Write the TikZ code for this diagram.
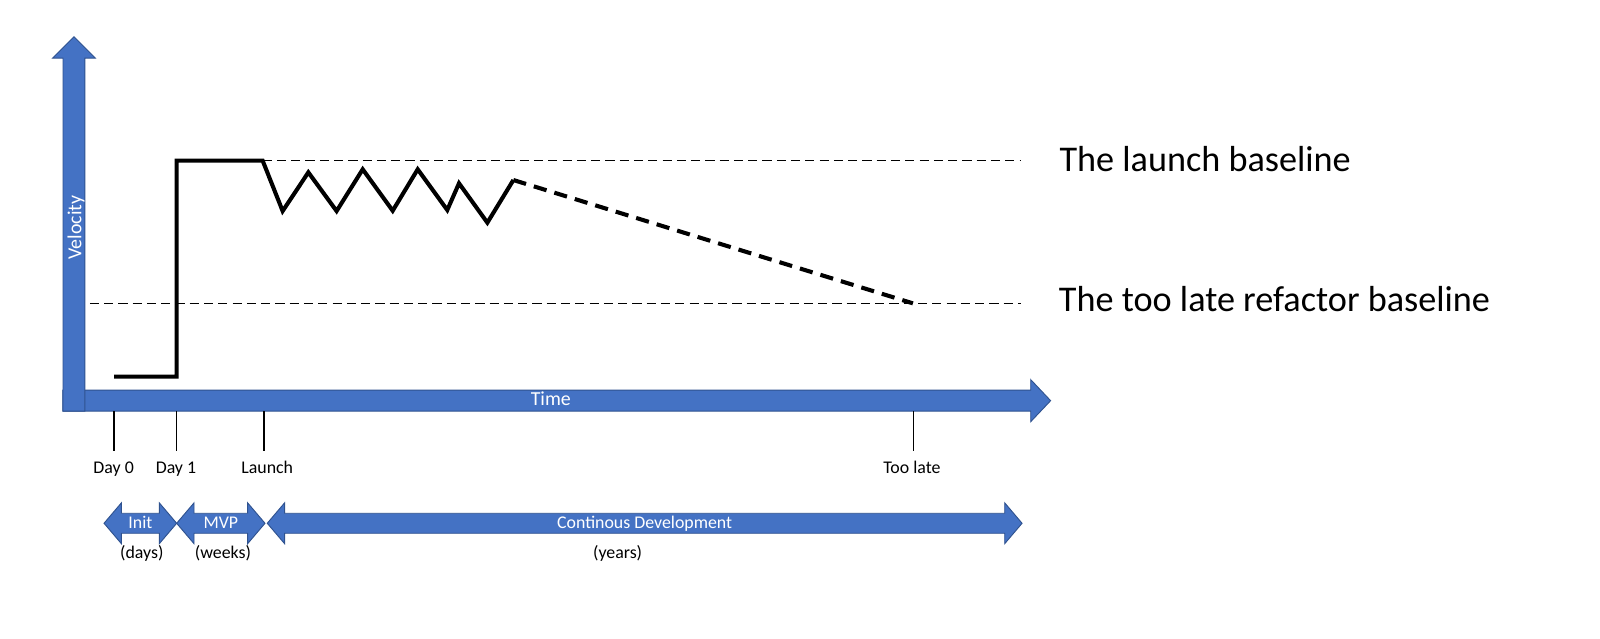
\documentclass[tikz,border=0pt]{standalone}
\usepackage{fontspec}
\setmainfont{Carlito}
\definecolor{axblue}{HTML}{4472C4}
\definecolor{axedge}{HTML}{2F528F}
\newcommand\mydblarr[2]{%
  \draw[blk] (#1,513) -- ({#1+17},493) -- ({#1+17},503.2) -- ({#2-17},503.2) -- ({#2-17},493) -- (#2,513)
    -- ({#2-17},533) -- ({#2-17},522.8) -- ({#1+17},522.8) -- ({#1+17},533) -- cycle;}
\begin{document}
\begin{tikzpicture}[x=1pt,y=-1pt,
  blk/.style={fill=axblue,draw=axedge,line width=0.9pt,line join=miter},
  curve/.style={line width=4pt,line join=miter,line cap=butt},
  thickdash/.style={line width=4pt,dash pattern=on 13pt off 8pt},
  baseln/.style={line width=1.6pt,dash pattern=on 9pt off 5pt},
  tickln/.style={line width=1.5pt},
  small/.style={font=\fontsize{17.5}{21}\selectfont,inner sep=0pt,anchor=base},
  axlbl/.style={font=\fontsize{19.5}{23}\selectfont,inner sep=0pt,anchor=base,text=white},
  big/.style={font=\fontsize{35.5}{42}\selectfont,inner sep=0pt,anchor=base west}]
\useasboundingbox (0,0) rectangle (1568.6,625.5);
\fill[white] (0,0) rectangle (1568.6,625.5);
% baselines
\coordinate (lb1) at (257.5,157.5);
\coordinate (lb2) at (1001,157.5);
\coordinate (rb1) at (88,297.4);
\coordinate (rb2) at (1001,297.4);
\draw[baseln] (lb1) -- (lb2);
\draw[baseln] (rb1) -- (rb2);
% time axis
\draw[blk] (61.5,382.5) -- (1010.5,382.5) -- (1010.5,372.2) -- (1030,392.8) -- (1010.5,413.4) -- (1010.5,403.1) -- (61.5,403.1) -- cycle;
% velocity axis
\draw[blk] (61.8,403.1) -- (61.8,57) -- (51.5,57) -- (72.5,36) -- (93.5,57) -- (83.2,57) -- (83.2,403.1) -- cycle;
\node[axlbl] (time) at (540,398) {Time};
\node[axlbl,rotate=90] (vel) at (79.7,223) {Velocity};
% velocity curve
\coordinate (p0) at (111.8,369.3);
\coordinate (p1) at (173.2,369.3);
\coordinate (p2) at (173.2,157.5);
\coordinate (z0) at (257.5,157.5);
\coordinate (zend) at (503.3,176.5);
\coordinate (tl) at (895,297.4);
\draw[curve] (p0) -- (p1) -- (p2) -- (z0) -- (277.1,206.9) -- (302.3,169) -- (330,206.9) -- (355.6,166)
  -- (385,206.6) -- (409.5,166) -- (438.5,205.9) -- (450,179.7) -- (477.8,218.3) -- (zend);
\draw[thickdash] (zend) -- (tl);
% baseline labels
\node[big] (l1) at (1038.5,168.6) {The launch baseline};
\node[big] (l2) at (1038,305.6) {The too late refactor baseline};
% ticks
\foreach \x/\n in {111.8/t0,173.2/t1,258.8/t2,895.5/t3}{
  \coordinate (\n a) at (\x,403.1);
  \coordinate (\n b) at (\x,442);
  \draw[tickln] (\n a) -- (\n b);
}
\node[small] (d0) at (111.4,464) {Day 0};
\node[small] (d1) at (172.5,464) {Day 1};
\node[small] (la) at (262,464) {Launch};
\node[small] (tol) at (894,464) {Too late};
% phase arrows
\mydblarr{102}{173.2}
\mydblarr{173.2}{259.8}
\mydblarr{262}{1002}
\node[small,text=white] (init) at (137.7,518) {Init};
\node[small,text=white] (mvp) at (216.5,518) {MVP};
\node[small,text=white] (cont) at (632,518) {Continous Development};
\node[small] (days) at (139,548) {(days)};
\node[small] (weeks) at (218.6,548) {(weeks)};
\node[small] (years) at (605.5,548) {(years)};
\end{tikzpicture}
\end{document}
